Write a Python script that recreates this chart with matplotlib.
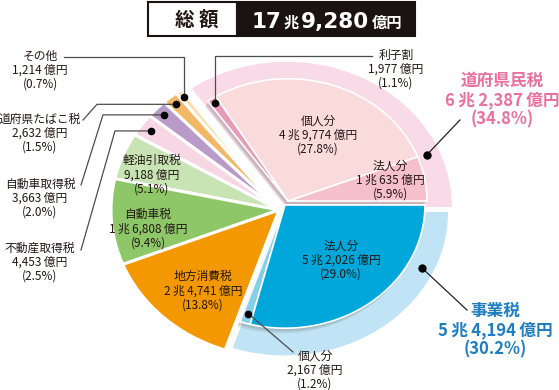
import numpy as np
import matplotlib.pyplot as plt
from matplotlib.patches import Wedge, Rectangle

plt.rcParams['font.family'] = ['Noto Sans CJK JP', 'DejaVu Sans']

# 税目ごとの内訳 (右端から反時計回り)
names = ['法人分', '個人分', '利子割', 'その他', '道府県たばこ税', '自動車取得税',
         '不動産取得税', '軽油引取税', '自動車税', '地方消費税', '個人分', '法人分']
amounts = ['1兆635億円', '4兆9,774億円', '1,977億円', '1,214億円', '2,632億円',
           '3,663億円', '4,453億円', '9,188億円', '1兆6,808億円', '2兆4,741億円',
           '2,167億円', '5兆2,026億円']
shares = [5.9, 27.8, 1.1, 0.7, 1.5, 2.0, 2.5, 5.1, 9.4, 13.8, 1.2, 29.0]
groups = [0, 0, 0, 1, 1, 1, 1, 1, 1, 1, 2, 2]   # 0=道府県民税 1=その他 2=事業税
colors = ['#f5bfcc', '#fadbdb', '#e89ab6', '#fddcae', '#f2b866', '#b89bc9',
          '#f8d7e5', '#c8e3b4', '#8dc767', '#f39800', '#86cfe9', '#00a7db']

group_names = ['道府県民税', '事業税']
group_amounts = ['6兆2,387億円', '5兆4,194億円']
group_shares = [34.8, 30.2]
total_parts = ['17', '兆', '9,280', '億円']

H, K = 390, 0.88          # 画像の高さ, 縦のつぶれ具合


def P(x, y):
    # 画像座標 -> データ座標
    return (x, (H - y) / K)


def sp(s):
    # 数字と漢字の間を少しあける
    return s.replace('兆', '\u2009兆\u2009').replace('億円', '\u2009億円')


fig = plt.figure(figsize=(5.59, 3.90), dpi=100)
ax = fig.add_axes([0, 0, 1, 1])
ax.set_xlim(0, 559)
ax.set_ylim(0, H / K)
ax.axis('off')

edges = np.concatenate([[0], np.cumsum(shares)]) * 3.6
centers = {0: (288, 201), 1: (279, 210), 2: (285, 205)}
radius = {0: 139, 1: 168, 2: 140}
ring_centers = {0: (287, 207), 2: (285, 212)}
ring_radius = {0: 165, 2: 163}
ring_colors = {0: '#f9dbe7', 2: '#c0e4f6'}
txt = '#231815'

# 外側のリング (グループ全体)
for g in (0, 2):
    idx = [i for i in range(len(shares)) if groups[i] == g]
    ax.add_patch(Wedge(P(*ring_centers[g]), ring_radius[g], edges[idx[0]], edges[idx[-1] + 1],
                       facecolor=ring_colors[g], edgecolor='none'))

# 影
for g in (0, 2):
    idx = [i for i in range(len(shares)) if groups[i] == g]
    cx, cy = centers[g]
    for s, a in [(5, 0.12), (3, 0.18)]:
        ax.add_patch(Wedge(P(cx - s * 0.6, cy + s), radius[g], edges[idx[0]], edges[idx[-1] + 1],
                           facecolor='#555555', alpha=a, edgecolor='none'))

# 各税目
for i, v in enumerate(shares):
    g = groups[i]
    lw = 2.2 if g == 1 else 1.2
    ax.add_patch(Wedge(P(*centers[g]), radius[g], edges[i], edges[i + 1],
                       facecolor=colors[i], edgecolor='white', linewidth=lw))


def slice_point(i, frac):
    g = groups[i]
    cx, cy = P(*centers[g])
    a = np.deg2rad((edges[i] + edges[i + 1]) / 2)
    r = radius[g] * frac
    return (cx + r * np.cos(a), cy + r * np.sin(a))


def ring_point(g, ang):
    cx, cy = P(*ring_centers[g])
    r = (radius[g] + ring_radius[g]) / 2
    a = np.deg2rad(ang)
    return (cx + r * np.cos(a), cy + r * np.sin(a))


def label(i):
    return f'{names[i]}\n{sp(amounts[i])}\n({shares[i]:.1f}%)'


# 扇形内のラベル
inner_pos = {0: (390, 180), 1: (318, 135), 7: (152, 175), 8: (148, 229),
             9: (203, 291), 11: (341, 260)}
for i, (x, y) in inner_pos.items():
    ax.text(*P(x, y), label(i), ha='center', va='center', fontsize=8.5,
            color=txt, linespacing=1.12)

# 外側のラベル
outer_pos = {2: (396, 69), 3: (40, 70), 4: (40, 133), 5: (40, 198), 6: (40, 262),
             10: (315, 370)}
for i, (x, y) in outer_pos.items():
    ax.text(*P(x, y), label(i), ha='center', va='center', fontsize=8.5,
            color=txt, linespacing=1.08)

# 引き出し線
dot_frac = {2: 0.96, 3: 0.95, 4: 0.94, 5: 0.94, 6: 0.93, 10: 0.92}
dots = {i: slice_point(i, f) for i, f in dot_frac.items()}
paths = {
    2: [P(372, 56), (dots[2][0], P(0, 56)[1]), dots[2]],
    3: [P(64, 57), (dots[3][0], P(0, 57)[1]), dots[3]],
    4: [P(83, 120), (97, dots[4][1]), dots[4]],
    5: [P(81, 185), (103, dots[5][1]), dots[5]],
    6: [P(81, 250), (115, dots[6][1]), dots[6]],
    10: [P(293, 352), dots[10]],
}
for i, pts in paths.items():
    xs, ys = zip(*pts)
    ax.plot(xs, ys, color='#4d4d4d', lw=0.9)
    ax.plot(*dots[i], 'o', color='black', ms=4.5)

# グループのラベル
gcol = ['#e9719c', '#1f7dc2']
gpos = [(502, 100), (495, 330)]
gdot = [ring_point(0, 23), ring_point(2, 335)]
gline = [P(460, 120), P(467, 310)]
for g in range(2):
    ax.text(*P(*gpos[g]), f'{group_names[g]}\n{sp(group_amounts[g])}\n({group_shares[g]:.1f}%)',
            ha='center', va='center', fontsize=12, fontweight='bold', color=gcol[g],
            linespacing=1.12)
    ax.plot([gline[g][0], gdot[g][0]], [gline[g][1], gdot[g][1]], color='#222222', lw=0.9)
    ax.plot(*gdot[g], 'o', color='black', ms=5)

# 総額
ax.add_patch(Rectangle(P(148, 36), 89, 34 / K, facecolor='white', edgecolor='#1a1311', lw=1.5))
ax.add_patch(Rectangle(P(237, 36), 178, 34 / K, facecolor='#1a1311', edgecolor='#1a1311', lw=1.5))
ax.text(*P(184, 20), '総', ha='center', va='center', fontsize=14, fontweight='bold', color=txt)
ax.text(*P(208, 20), '額', ha='center', va='center', fontsize=14, fontweight='bold', color=txt)

base_y = P(0, 28)[1]
prev = ax.text(252, base_y, total_parts[0], ha='left', va='baseline', fontsize=15.5,
               fontweight='bold', color='white', family=['DejaVu Sans'])
for s in total_parts[1:]:
    digit = s[0].isdigit()
    prev = ax.annotate(s, xy=(1, base_y), xycoords=(prev, 'data'),
                       xytext=(1.5, 0), textcoords='offset points',
                       ha='left', va='baseline', fontweight='bold', color='white',
                       fontsize=15.5 if digit else 11,
                       family=['DejaVu Sans'] if digit else ['Noto Sans CJK JP'])

fig.savefig('out.png', dpi=100)
